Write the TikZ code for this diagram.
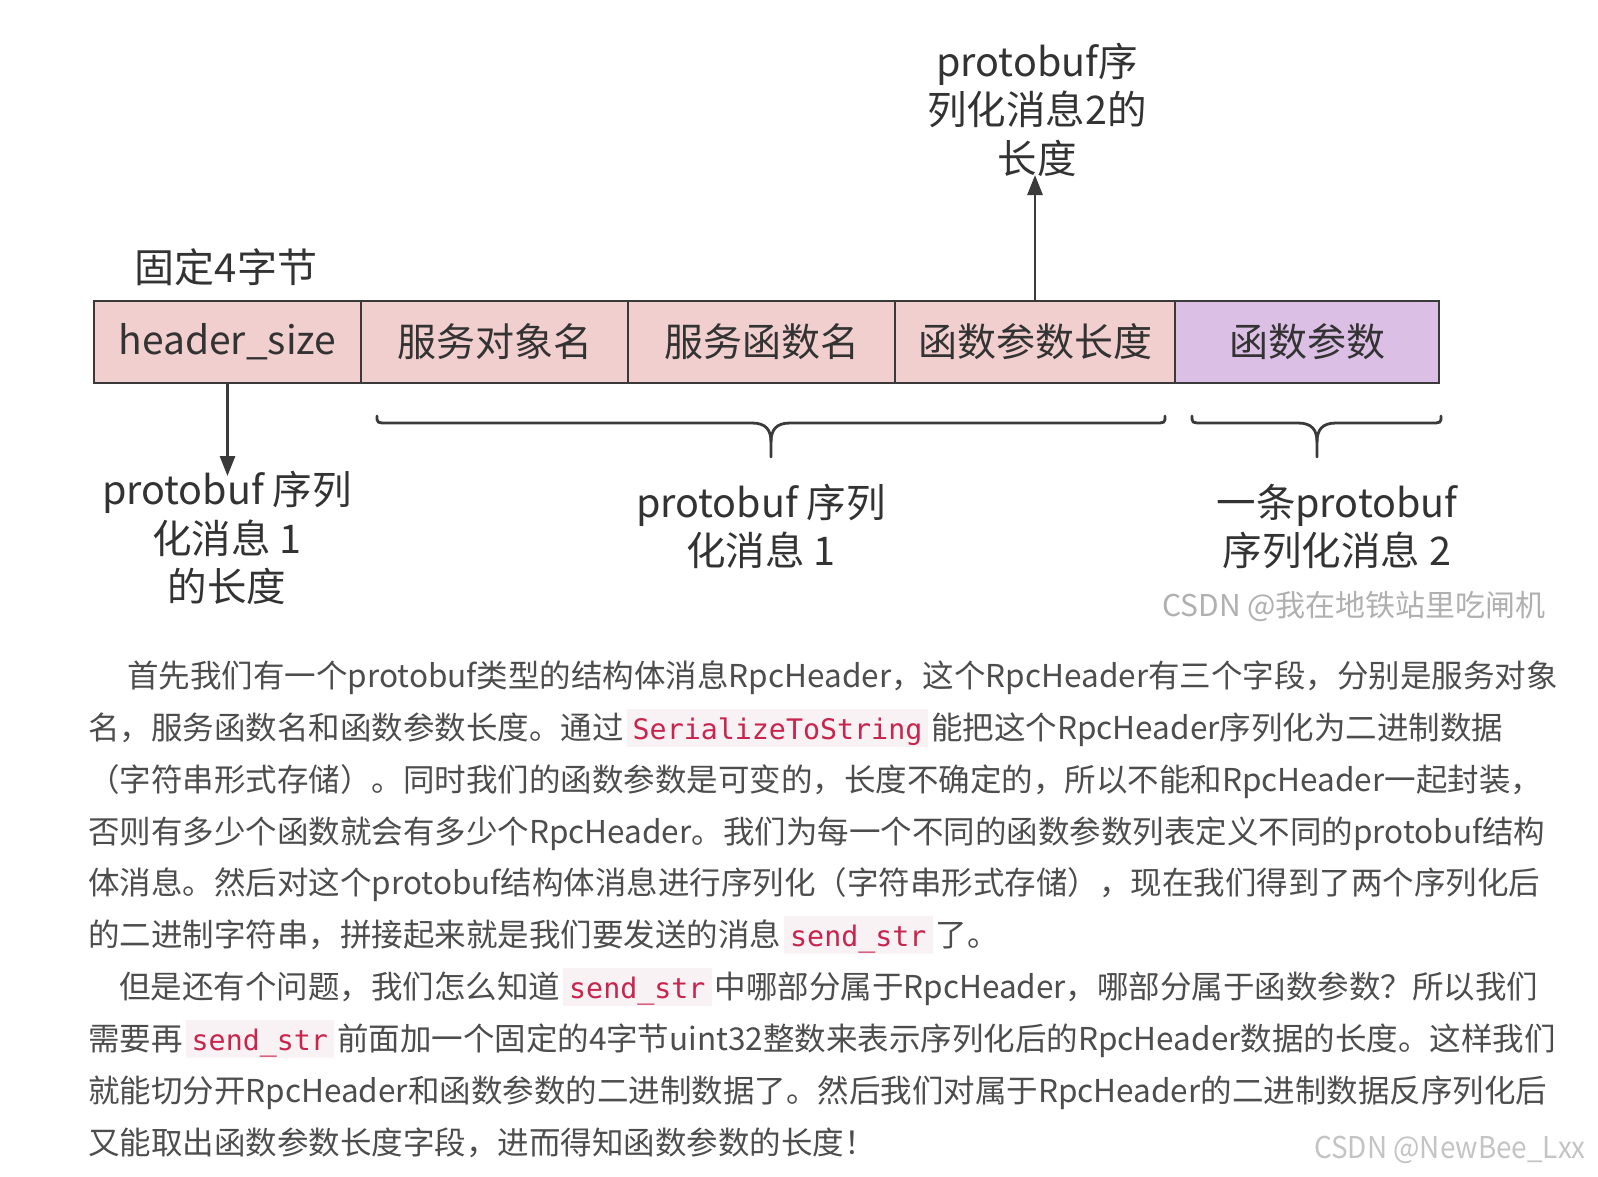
\documentclass[tikz,border=0pt]{standalone}
\usepackage{fontspec}
\setmainfont{Noto Sans CJK SC}
\newfontfamily\codefont{DejaVu Sans Mono}
\usetikzlibrary{arrows.meta}
\definecolor{boxpink}{HTML}{F2CFCF}
\definecolor{boxpurple}{HTML}{DCBFE5}
\definecolor{linegray}{HTML}{3A3A3A}
\definecolor{txtdiag}{HTML}{333333}
\definecolor{txtpara}{HTML}{4D4D4D}
\definecolor{codered}{HTML}{C7254E}
\definecolor{chipbg}{HTML}{F9F2F4}
\definecolor{wmgray}{HTML}{B0B0B0}
\newcommand{\chip}[1]{\hspace{3pt}{\setlength{\fboxsep}{0pt}\colorbox{chipbg}{\hspace{6pt}\codefont\fontsize{28.3}{32}\selectfont\color{codered}\rule[-8pt]{0pt}{38pt}#1\hspace{6pt}}}\hspace{3pt}}
\tikzset{
  fieldbox/.style={draw=linegray, line width=2.8pt, fill=boxpink, minimum height=82pt, inner sep=0pt, text=txtdiag, font=\fontsize{39}{47}\selectfont},
  lbl/.style={align=center, text=txtdiag, inner sep=0pt, font=\fontsize{39.5}{48.5}\selectfont},
  arr/.style={draw=linegray, line width=2.8pt, -{Triangle[width=15pt,length=20pt]}},
  braceline/.style={draw=linegray, line width=2.8pt, line cap=round},
  para/.style={anchor=base west, inner sep=0pt, text=txtpara, font=\fontsize{31.5}{40}\selectfont},
  wm/.style={anchor=west, inner sep=0pt, text=wmgray, font=\fontsize{30}{30}\selectfont}
}
\begin{document}
\begin{tikzpicture}[x=1pt,y=-1pt]
\useasboundingbox[fill=white] (0,0) rectangle (1598,1176);
% boxes
\node[fieldbox, minimum width=267pt] (hs) at (227.5,342) {header\_size};
\node[fieldbox, minimum width=267pt] (svc) at (494.5,342) {服务对象名};
\node[fieldbox, minimum width=267pt] (fn) at (761.5,342) {服务函数名};
\node[fieldbox, minimum width=280pt] (plen) at (1035,342) {函数参数长度};
\node[fieldbox, minimum width=264pt, fill=boxpurple] (args) at (1307,342) {函数参数};
% labels
\node[lbl, font=\fontsize{40}{48}\selectfont] (fixed) at (226,267) {固定4字节};
\node[lbl] (l1) at (227,538) {protobuf 序列\\化消息 1\\的长度};
\node[lbl] (l2) at (1037,109.5) {protobuf序\\列化消息2的\\长度};
\node[lbl] (l3) at (761,526.5) {protobuf 序列\\化消息 1};
\node[lbl] (l4) at (1337,526.5) {一条protobuf\\序列化消息 2};
% arrows
\coordinate (a1end) at (227.5,476);
\coordinate (a2end) at (1035,175);
\draw[arr] (hs.south) -- (a1end);
\draw[arr] (plen.north) -- (a2end);
% braces
\draw[braceline] (377,416) .. controls (377,423) .. (388,423) -- (752,423) .. controls (766,423) and (771,430) .. (771,442) -- (771,457);
\draw[braceline] (771,442) .. controls (771,430) and (776,423) .. (790,423) -- (1154,423) .. controls (1165,423) .. (1165,416);
\draw[braceline] (1192,416) .. controls (1192,423) .. (1203,423) -- (1298,423) .. controls (1312,423) and (1317,430) .. (1317,442) -- (1317,457);
\draw[braceline] (1317,442) .. controls (1317,430) and (1322,423) .. (1336,423) -- (1430,423) .. controls (1441,423) .. (1441,416);
% watermark 1
\node[wm] (wm1) at (1162,606) {CSDN @我在地铁站里吃闸机};
% paragraph
\node[para] (p1) at (127,687) {首先我们有一个protobuf类型的结构体消息RpcHeader，这个RpcHeader有三个字段，分别是服务对象};
\node[para] (p2) at (88,739) {名，服务函数名和函数参数长度。通过\chip{SerializeToString}能把这个RpcHeader序列化为二进制数据};
\node[para] (p3) at (88,791) {（字符串形式存储）。同时我们的函数参数是可变的，长度不确定的，所以不能和RpcHeader一起封装，};
\node[para] (p4) at (88,843) {否则有多少个函数就会有多少个RpcHeader。我们为每一个不同的函数参数列表定义不同的protobuf结构};
\node[para] (p5) at (88,894) {体消息。然后对这个protobuf结构体消息进行序列化（字符串形式存储），现在我们得到了两个序列化后};
\node[para] (p6) at (88,946) {的二进制字符串，拼接起来就是我们要发送的消息\chip{send\_str}了。};
\node[para] (p7) at (119,998) {但是还有个问题，我们怎么知道\chip{send\_str}中哪部分属于RpcHeader，哪部分属于函数参数？所以我们};
\node[para] (p8) at (88,1050) {需要再\chip{send\_str}前面加一个固定的4字节uint32整数来表示序列化后的RpcHeader数据的长度。这样我们};
\node[para] (p9) at (88,1102) {就能切分开RpcHeader和函数参数的二进制数据了。然后我们对属于RpcHeader的二进制数据反序列化后};
\node[para] (p10) at (88,1154) {又能取出函数参数长度字段，进而得知函数参数的长度！};
% watermark 2
\node[wm, text=wmgray!75] (wm2) at (1314,1150) {\scalebox{0.93}[1]{CSDN @NewBee\_Lxx}};
\end{tikzpicture}
\end{document}
